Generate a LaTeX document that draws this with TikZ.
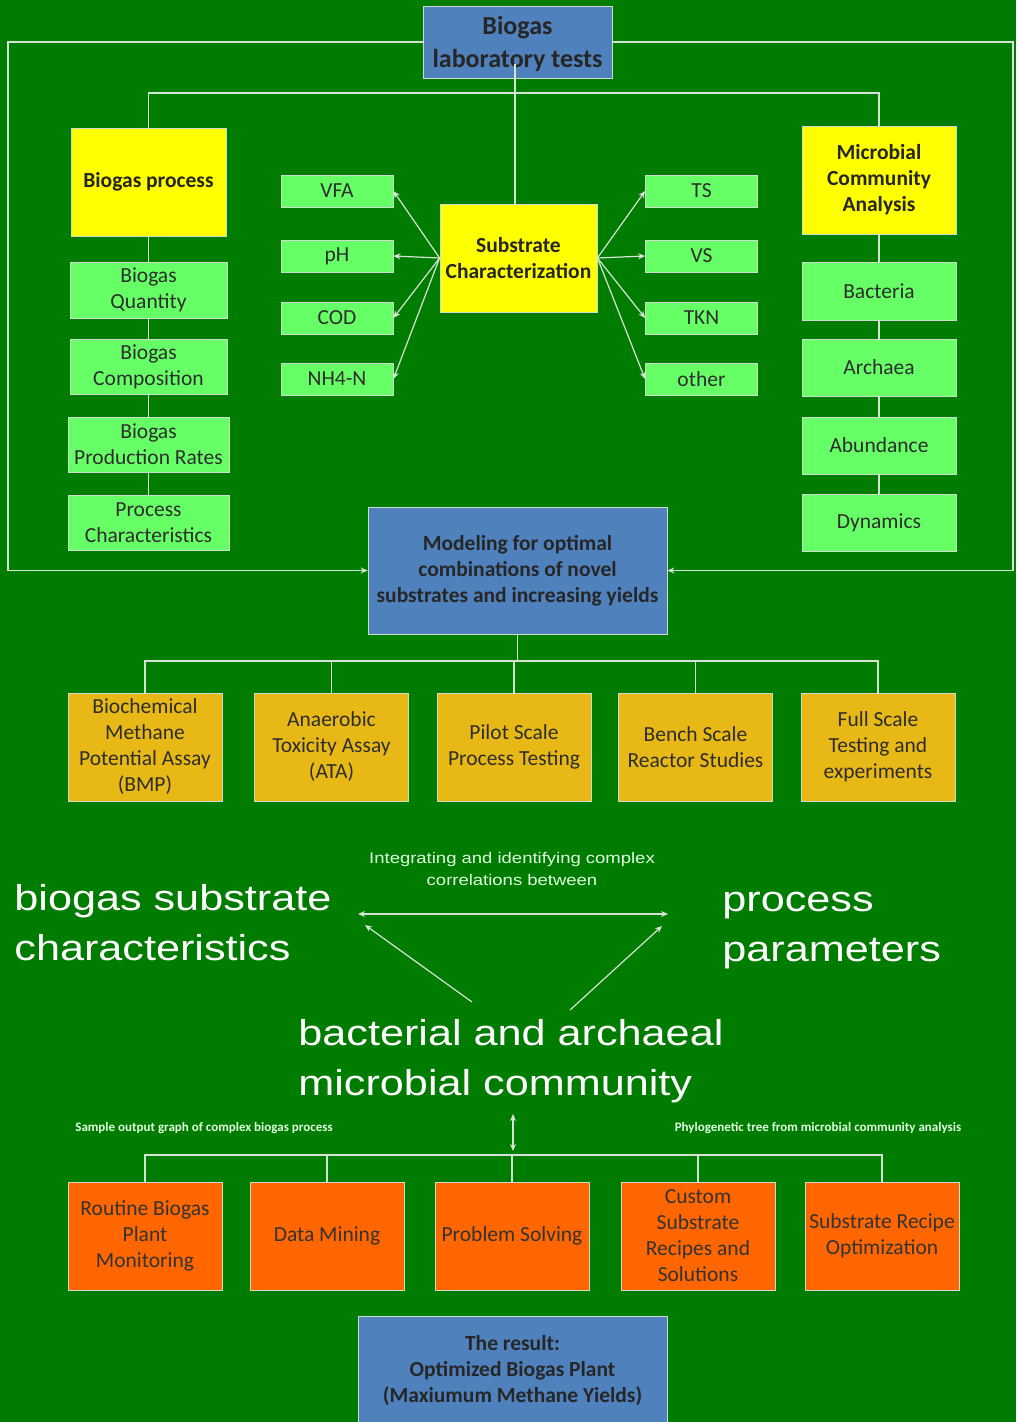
\documentclass[tikz,border=0pt]{standalone}
\usepackage{fontspec}
\setmainfont{Carlito}
\newfontfamily\widefont[FakeStretch=1.2]{Liberation Sans}
\usetikzlibrary{arrows.meta}

\newlength{\du}
\setlength{\du}{0.5pt}

\definecolor{bggreen}{RGB}{0,124,0}
\definecolor{boxblue}{RGB}{79,129,189}
\definecolor{boxyellow}{RGB}{255,255,0}
\definecolor{boxgreen}{RGB}{102,255,102}
\definecolor{boxamber}{RGB}{232,185,22}
\definecolor{boxorange}{RGB}{255,102,0}
\definecolor{linegray}{RGB}{214,228,214}
\definecolor{edgegray}{RGB}{205,220,205}
\definecolor{inkgray}{RGB}{45,45,45}

\tikzset{
  boxbase/.style={draw=edgegray, line width=0.8\du, align=center, inner sep=0pt,
    text=inkgray, font=\fontsize{10.75}{13}\selectfont},
  bluebox/.style={boxbase, fill=boxblue, text=black!85,
    font=\fontsize{10.75}{13}\selectfont\bfseries},
  yellowbox/.style={boxbase, fill=boxyellow, text=black!85, minimum width=155\du,
    minimum height=108\du, font=\fontsize{10.75}{13}\selectfont\bfseries},
  greenbox/.style={boxbase, fill=boxgreen, minimum width=157\du, minimum height=56\du},
  tagbox/.style={boxbase, fill=boxgreen, minimum width=112\du, minimum height=32\du},
  amberbox/.style={boxbase, fill=boxamber, minimum width=154\du, minimum height=108\du},
  redbox/.style={boxbase, fill=boxorange, text=black!80, minimum width=154\du,
    minimum height=108\du},
  link/.style={draw=linegray, line width=1.2\du},
  arrowend/.style={-{Stealth[length=3.5pt,width=3pt]}},
  arrowboth/.style={{Stealth[length=3.5pt,width=3pt]}-{Stealth[length=3.5pt,width=3pt]}},
  bigtext/.style={text=white, align=left, inner sep=0pt,
    font=\widefont\fontsize{18}{25}\selectfont},
  smalltext/.style={text=white!88!green, align=center, inner sep=0pt,
    font=\widefont\fontsize{7.7}{11}\selectfont},
  tinytext/.style={text=white!88!green, inner sep=0pt,
    font=\fontsize{6.5}{7}\selectfont\bfseries},
}

\begin{document}
\begin{tikzpicture}
\pgftransformyscale{-1.000000}
\fill[bggreen] (0\du,0\du) rectangle (1016\du,1422\du);
\useasboundingbox (0\du,0\du) rectangle (1016\du,1422\du);

% top
\node[bluebox, minimum width=189\du, minimum height=72\du,
  font=\fontsize{13}{16.5}\selectfont\bfseries] (labtests) at (517.5\du,42\du) {\strut Biogas\\laboratory tests};

% left column
\node[yellowbox] (bioproc) at (148.5\du,182\du) {Biogas process};
\node[greenbox] (quantity) at (148.5\du,290\du) {Biogas\\Quantity};
\node[greenbox, minimum height=55\du] (composition) at (148.5\du,366.5\du) {Biogas\\Composition};
\node[greenbox, minimum width=161\du, minimum height=55\du] (rates) at (148.5\du,444.5\du) {Biogas\\Production Rates};
\node[greenbox, minimum width=161\du, minimum height=55\du] (prochar) at (148.5\du,522.5\du) {Process\\Characteristics};

% right column
\node[yellowbox, minimum width=154\du] (microbial) at (879\du,180\du) {Microbial\\Community\\Analysis};
\node[greenbox, minimum width=154\du, minimum height=58\du] (bacteria) at (879\du,291\du) {Bacteria};
\node[greenbox, minimum width=154\du, minimum height=57\du] (archaea) at (879\du,367.5\du) {Archaea};
\node[greenbox, minimum width=154\du, minimum height=57\du] (abundance) at (879\du,445.5\du) {Abundance};
\node[greenbox, minimum width=154\du, minimum height=57\du] (dynamics) at (879\du,522.5\du) {Dynamics};

% substrate and its tags
\node[yellowbox, minimum width=157\du] (substrate) at (518.5\du,258\du) {Substrate\\Characterization};
\foreach \name/\txt/\y in {vfa/VFA/191, ph/pH/256, cod/COD/318, nhn/NH4-N/379}{
  \node[tagbox] (\name) at (337\du,\y\du) {\txt};
  \draw[link, arrowend] (substrate.west) -- (\name.east);
}
\foreach \name/\txt/\y in {ts/TS/191, vs/VS/256, tkn/TKN/318, other/other/379}{
  \node[tagbox] (\name) at (701.5\du,\y\du) {\txt};
  \draw[link, arrowend] (substrate.east) -- (\name.west);
}

% modeling
\node[bluebox, minimum width=299\du, minimum height=127\du] (modeling) at (517.5\du,570.5\du)
  {Modeling for optimal\\combinations of novel\\substrates and increasing yields};

\foreach \name/\x/\txt in {bmp/145/{Biochemical\\Methane\\Potential Assay\\(BMP)},
  ata/331.5/{Anaerobic\\Toxicity Assay\\(ATA)}, pilot/514/{Pilot Scale\\Process Testing},
  bench/695.5/{Bench Scale\\Reactor Studies}, fullscale/878/{Full Scale\\Testing and\\experiments}}
  \node[amberbox] (\name) at (\x\du,747\du) {\txt};

% correlation triangle
\node[smalltext] (integr) at (512\du,869\du) {Integrating and identifying complex\\correlations between};
\node[bigtext, anchor=west] (substxt) at (14\du,923\du) {biogas substrate\\characteristics};
\node[bigtext, anchor=west] (proctxt) at (722\du,931\du) {process\\parameters};
\node[bigtext, anchor=west] (microtxt) at (298\du,1061\du) {bacterial and archaeal\\microbial community};
\coordinate (corrL) at (358\du,914\du);
\coordinate (corrR) at (668\du,914\du);
\coordinate (upL) at (365\du,925\du);
\coordinate (footL) at (472\du,1002\du);
\coordinate (upR) at (662\du,926\du);
\coordinate (footR) at (570\du,1010\du);
\draw[link, arrowboth] (corrL) -- (corrR);
\draw[link, arrowend] (footL) -- (upL);
\draw[link, arrowend] (footR) -- (upR);

\node[tinytext] (samplecap) at (204\du,1128\du) {Sample output graph of complex biogas process};
\node[tinytext] (phylocap) at (818\du,1128\du) {Phylogenetic tree from microbial community analysis};
\coordinate (linktop) at (513\du,1114\du);
\coordinate (linkbot) at (513\du,1151\du);
\draw[link, arrowboth] (linktop) -- (linkbot);

\foreach \name/\x/\txt in {routine/145/{Routine Biogas\\Plant\\Monitoring}, mining/327/{Data Mining},
  solving/512/{Problem Solving}, custom/698/{Custom\\Substrate\\Recipes and\\Solutions},
  recipe/882/{Substrate Recipe\\Optimization}}
  \node[redbox] (\name) at (\x\du,1236\du) {\txt};

\node[bluebox, minimum width=309\du, minimum height=110\du] (result) at (512.5\du,1371\du)
  {The result:\\Optimized Biogas Plant\\(Maxiumum Methane Yields)};

% connectors
\coordinate (busA) at (0\du,93\du);
\coordinate (busB) at (0\du,661\du);
\coordinate (busC) at (0\du,1155\du);
\coordinate (stem) at (515\du,64\du);
\coordinate (loopL) at (8\du,0\du);
\coordinate (loopR) at (1013\du,0\du);
\draw[link] (stem) -- (stem |- substrate.north);
\draw[link] (bioproc.north) -- (bioproc.north |- busA) -- (microbial.north |- busA) -- (microbial.north);
\foreach \a/\b in {bioproc/quantity, quantity/composition, composition/rates, rates/prochar,
  microbial/bacteria, bacteria/archaea, archaea/abundance, abundance/dynamics}
  \draw[link] (\a.south) -- (\b.north);
\draw[link, arrowend] (labtests.west) -- (labtests.west -| loopL) -- (loopL |- modeling.west) -- (modeling.west);
\draw[link, arrowend] (labtests.east) -- (labtests.east -| loopR) -- (loopR |- modeling.east) -- (modeling.east);
\draw[link] (modeling.south) -- (modeling.south |- busB);
\draw[link] (bmp.north) -- (bmp.north |- busB) -- (fullscale.north |- busB) -- (fullscale.north);
\foreach \n in {ata, pilot, bench}
  \draw[link] (\n.north) -- (\n.north |- busB);
\draw[link] (routine.north) -- (routine.north |- busC) -- (recipe.north |- busC) -- (recipe.north);
\foreach \n in {mining, solving, custom}
  \draw[link] (\n.north) -- (\n.north |- busC);
\end{tikzpicture}
\end{document}
